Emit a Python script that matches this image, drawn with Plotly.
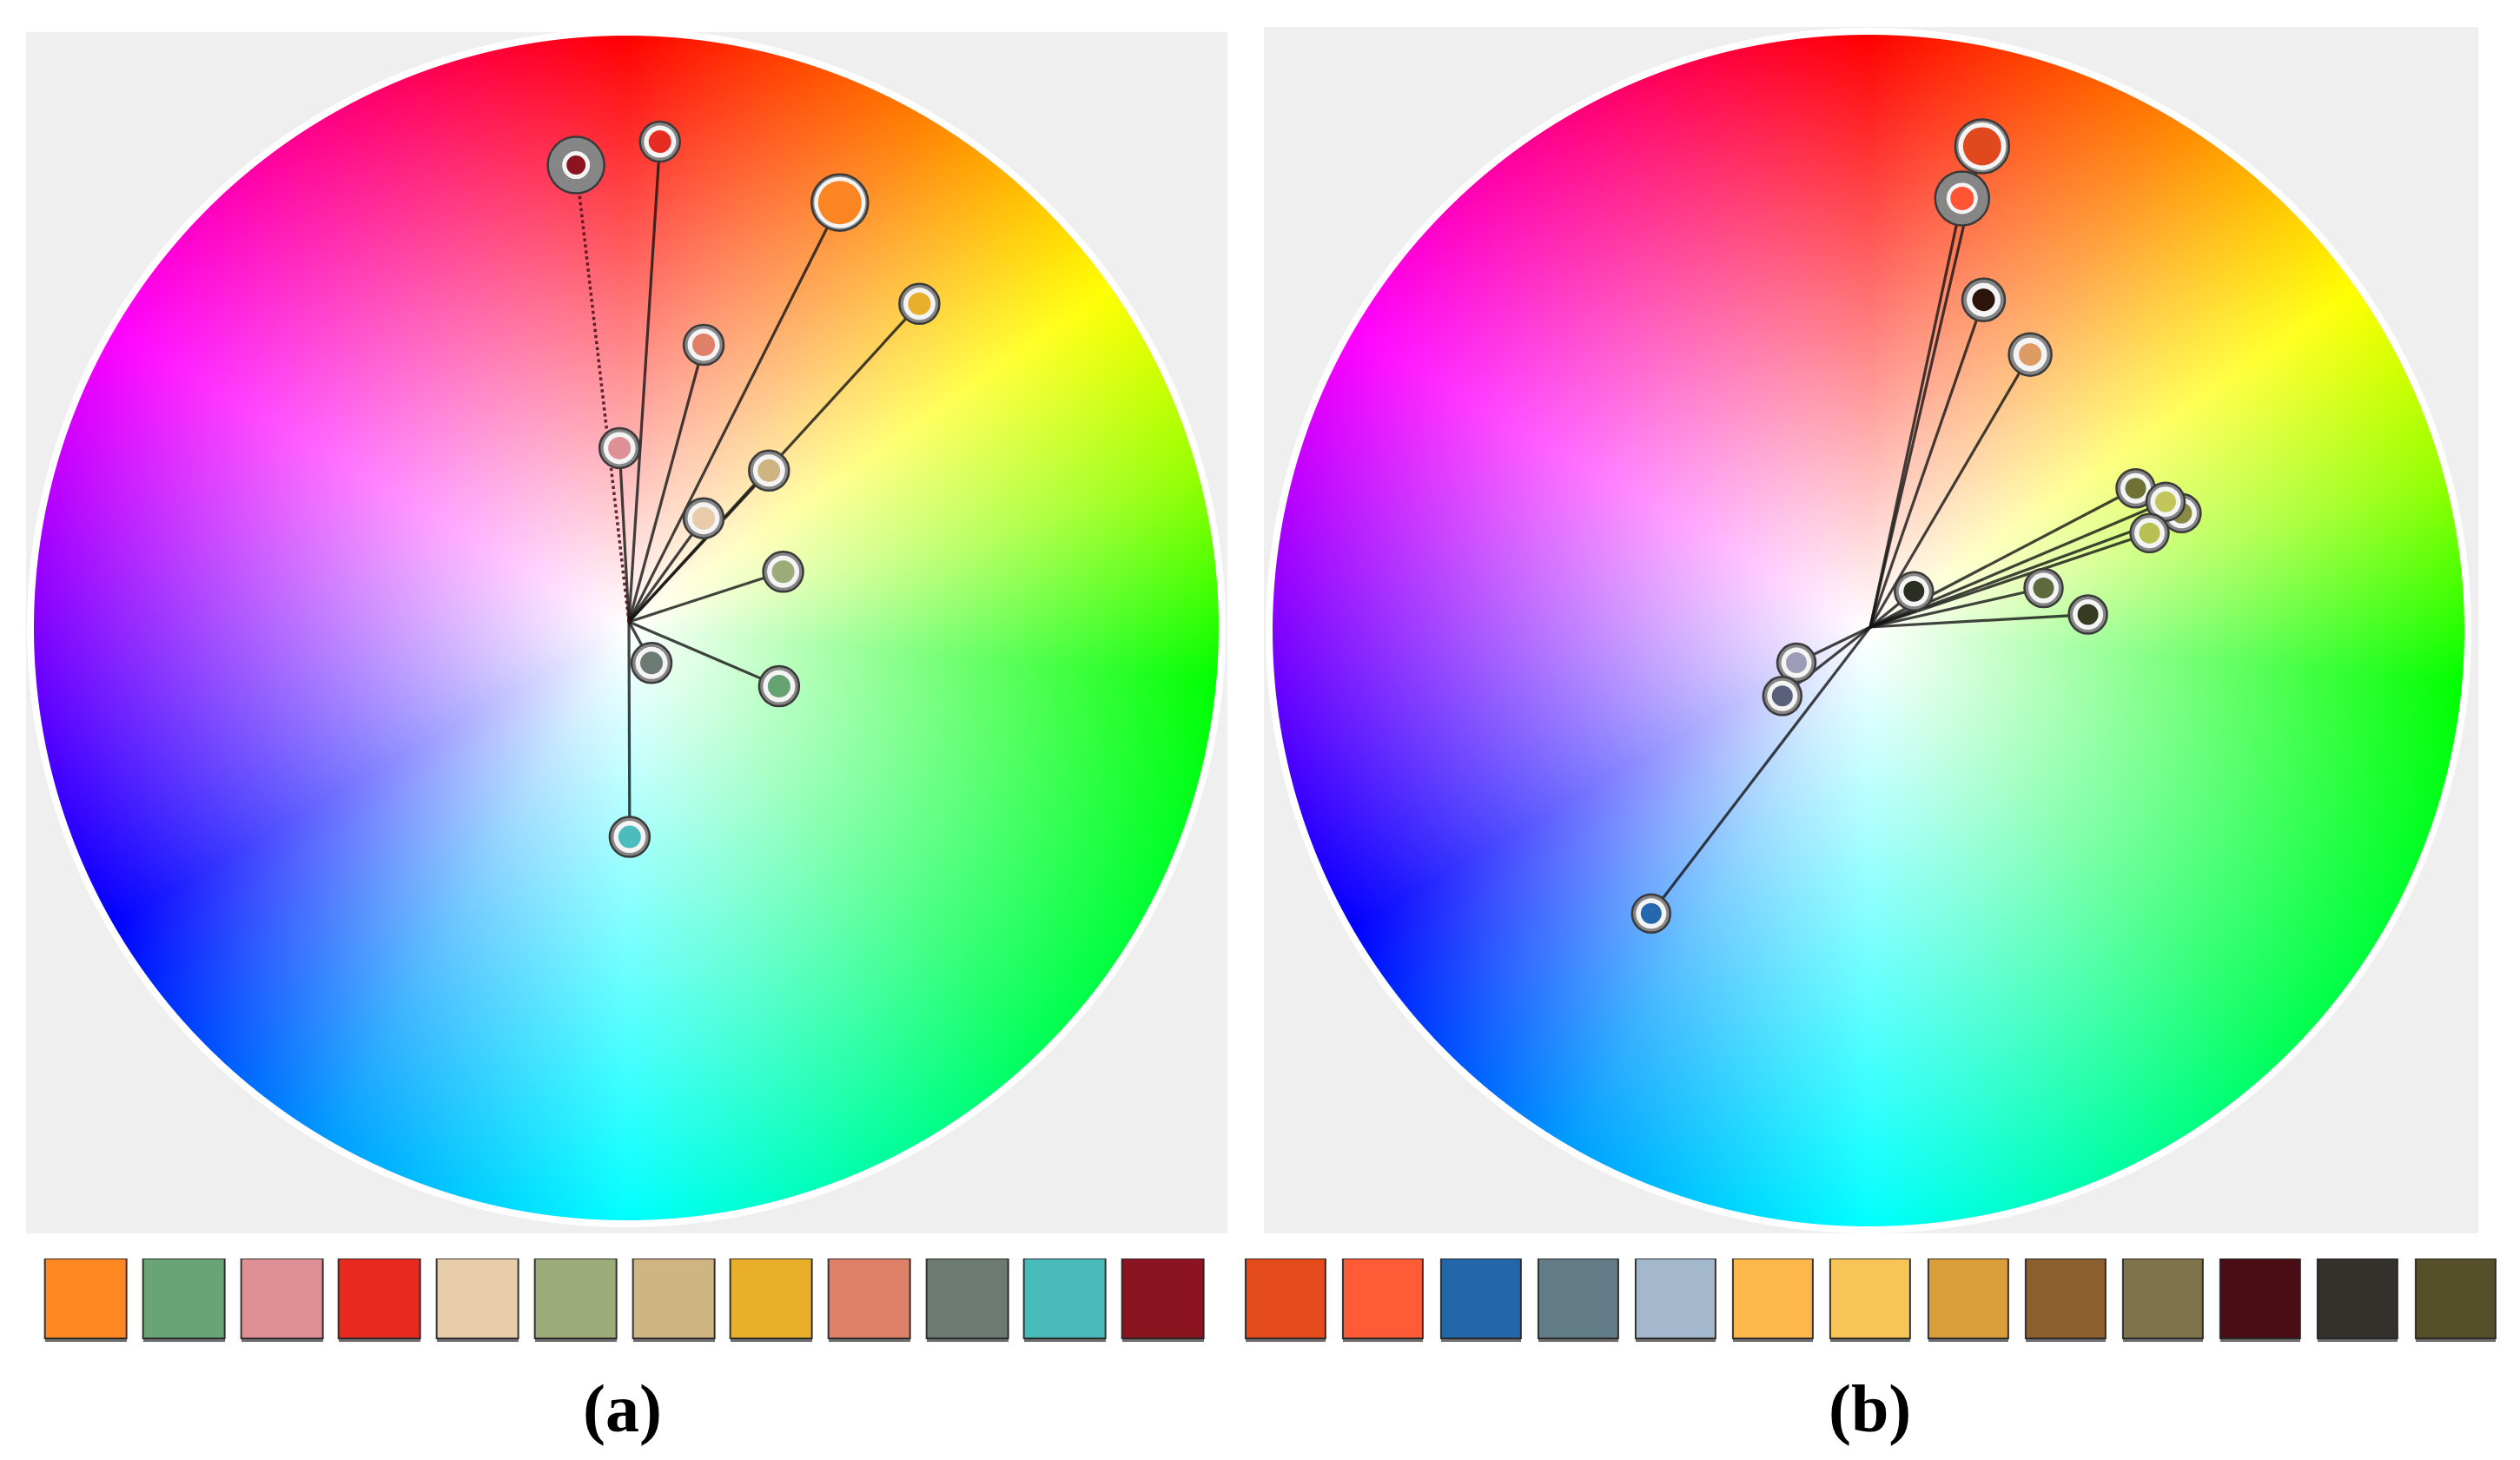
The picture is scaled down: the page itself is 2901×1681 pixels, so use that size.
import numpy as np
import zlib, struct, base64
import plotly.graph_objects as go

FIG_W, FIG_H = 2901, 1681

# ------------------------------------------------------------------ data
# Panel (a): markers on the colour wheel (angle clockwise from top, radius 0..1)
A_THETA = [26.7, 113.2, 356.9, 3.7, 35.8, 72.0, 42.8, 42.4, 15.1, 151.2, 179.8, 353.4]
A_R = [0.790, 0.275, 0.293, 0.810, 0.215, 0.273, 0.347, 0.725, 0.483, 0.079, 0.362, 0.774]
A_COLORS = ['#fc8523', '#66a373', '#de9195', '#e62c23', '#e8ccaa', '#9dab78',
            '#cfb481', '#e9ae2c', '#e08068', '#6b7a72', '#4cbcbc', '#8c1421']
A_SWATCHES = ['#fd8721', '#68a474', '#df9095', '#e7291f', '#e8cdab', '#9cac79',
              '#cfb582', '#e9af2b', '#df8068', '#6c7a72', '#4abbbb', '#8c1420']

# Panel (b)
B_THETA = [13.1, 12.1, 19.1, 30.4, 69.9, 62.4, 67.0, 71.4, 50.7, 77.3, 86.7, 244.2, 231.9, 217.4]
B_R = [0.831, 0.738, 0.583, 0.532, 0.558, 0.504, 0.540, 0.496, 0.095, 0.299, 0.367, 0.138, 0.188, 0.607]
B_COLORS = ['#e0481e', '#ff5535', '#2c130c', '#dd9a62', '#8a8a44', '#6e7234', '#c2c65a',
            '#b9c052', '#2b2e22', '#5e6a3e', '#363c22', '#9c9cb6', '#5a6079', '#2668b0']
B_SWATCHES = ['#e34a1c', '#fe5b36', '#2366a9', '#627c88', '#a3b8cd', '#fdb74b', '#f6c457',
              '#d99d3a', '#8e5f2e', '#7f734c', '#4a0c15', '#34302c', '#55502a']

LABELS = ['(a)', '(b)']

# colour-wheel hue layout (wheel angle -> HSV hue)
HUE_ANGLE = [0, 30, 55, 75, 95, 135, 180, 210, 240, 270, 300, 360]
HUE_VALUE = [0, 30, 60, 85, 120, 140, 180, 203, 240, 270, 300, 360]

# ------------------------------------------------------------------ styles
A_OUTER = [67, 48, 48, 48, 48, 48, 48, 48, 48, 48, 48, 67]
A_WHITE = [59, 37, 37, 37, 37, 37, 37, 37, 37, 37, 37, 32]
A_DOT = [50, 26, 26, 26, 26, 26, 26, 26, 26, 26, 26, 22]
A_DOTTED = [False] * 11 + [True]

B_OUTER = [64, 64, 51, 51, 46, 46, 46, 46, 46, 46, 46, 46, 46, 46]
B_WHITE = [55, 36, 39, 39, 35, 35, 35, 35, 35, 35, 35, 35, 35, 35]
B_DOT = [44, 27, 26, 26, 24, 24, 24, 24, 24, 24, 24, 24, 24, 24]
B_DOTTED = [False] * 14

PANEL_BG = (239, 239, 239)

# layout geometry (pixels)
PANELS = [
    dict(rect=(30, 37, 1413, 1420), wheel=(721, 723, 682), center=(724, 716), R=684,
         sw_left=52, sw_pitch=112.7, sw_w=94, label_x=716),
    dict(rect=(1455, 31, 2853, 1420), wheel=(2151, 726, 686), center=(2153, 722), R=684,
         sw_left=1434, sw_pitch=112.2, sw_w=92, label_x=2152),
]
SW_TOP, SW_BOT = 1449, 1541
LABEL_Y = 1621


def hsv_to_rgb(h, s, v):
    h6 = (h % 360) / 60.0
    i = np.floor(h6).astype(int) % 6
    f = h6 - np.floor(h6)
    p = v * (1 - s)
    q = v * (1 - s * f)
    t = v * (1 - s * (1 - f))
    r = np.choose(i, [v, q, p, p, t, v])
    g = np.choose(i, [t, v, v, q, p, p])
    b = np.choose(i, [p, p, t, v, v, q])
    return np.stack([r, g, b], axis=-1)


def png_uri(rgb):
    h, w, _ = rgb.shape
    a = rgb.astype(np.int16)
    up = np.empty_like(a)
    up[0] = a[0]
    up[1:] = (a[1:] - a[:-1]) % 256
    raw = np.concatenate([np.full((h, 1), 2, np.uint8),
                          up.astype(np.uint8).reshape(h, w * 3)], axis=1)
    comp = zlib.compress(raw.tobytes(), 6)

    def chunk(t, d):
        c = struct.pack('>I', len(d)) + t + d
        return c + struct.pack('>I', zlib.crc32(t + d) & 0xffffffff)

    png = (b'\x89PNG\r\n\x1a\n' +
           chunk(b'IHDR', struct.pack('>IIBBBBB', w, h, 8, 2, 0, 0, 0)) +
           chunk(b'IDAT', comp) + chunk(b'IEND', b''))
    return 'data:image/png;base64,' + base64.b64encode(png).decode()


def wheel_image(rect, wheel, ring=8):
    x0, y0, x1, y1 = rect
    cx, cy, R = wheel
    W, H = x1 - x0, y1 - y0
    yy, xx = np.mgrid[0:H, 0:W].astype(float)
    dx = xx + 0.5 + x0 - cx
    dy = yy + 0.5 + y0 - cy
    d = np.hypot(dx, dy)
    theta = np.degrees(np.arctan2(dx, -dy)) % 360
    hue = np.interp(theta, HUE_ANGLE, HUE_VALUE)
    s = np.clip(d / R, 0, 1)
    rgb = hsv_to_rgb(hue, s, np.ones_like(s)) * 255
    inside = np.clip(R - d + 0.5, 0, 1)[..., None]
    ringc = np.clip(R + ring - d + 0.5, 0, 1)[..., None]
    bg = np.array(PANEL_BG, float)
    col = bg * (1 - ringc) + 255 * ringc
    col = col * (1 - inside) + rgb * inside
    return png_uri(np.clip(np.round(col), 0, 255).astype(np.uint8))


fig = go.Figure()
images, annotations = [], []
layout_extra = {}

panel_data = [
    (A_THETA, A_R, A_COLORS, A_SWATCHES, A_OUTER, A_WHITE, A_DOT, A_DOTTED),
    (B_THETA, B_R, B_COLORS, B_SWATCHES, B_OUTER, B_WHITE, B_DOT, B_DOTTED),
]

for k, (P, (th, rr, cols, sw, outer, white, dot, dotted)) in enumerate(zip(PANELS, panel_data)):
    sfx = '' if k == 0 else str(k + 1)
    polar = 'polar' + sfx
    x0, y0, x1, y1 = P['rect']
    images.append(dict(source=wheel_image(P['rect'], P['wheel']), xref='paper', yref='paper',
                       x=x0 / FIG_W, y=1 - y0 / FIG_H, sizex=(x1 - x0) / FIG_W,
                       sizey=(y1 - y0) / FIG_H, xanchor='left', yanchor='top',
                       sizing='stretch', layer='below'))
    cx, cy = P['center']
    R = P['R']
    layout_extra[polar] = dict(
        domain=dict(x=[(cx - R) / FIG_W, (cx + R) / FIG_W],
                    y=[1 - (cy + R) / FIG_H, 1 - (cy - R) / FIG_H]),
        bgcolor='rgba(0,0,0,0)',
        angularaxis=dict(visible=False, rotation=90, direction='clockwise'),
        radialaxis=dict(visible=False, range=[0, 1], autorange=False),
    )
    # spokes
    for dash_flag in (False, True):
        rs, ts = [], []
        for t, r, dflag in zip(th, rr, dotted):
            if dflag == dash_flag:
                rs += [0, r, None]
                ts += [t, t, None]
        if rs:
            fig.add_trace(go.Scatterpolar(
                r=rs, theta=ts, mode='lines', subplot=polar, hoverinfo='skip',
                line=dict(color='rgba(80,20,30,0.9)' if dash_flag else 'rgba(20,20,20,0.8)',
                          width=3.5 if dash_flag else 3.2, dash='dot' if dash_flag else 'solid')))
    # markers (outer gray ring, white ring, colour dot) per point for proper stacking
    for t, r, c, so, sw_, sd in zip(th, rr, cols, outer, white, dot):
        fig.add_trace(go.Scatterpolar(r=[r], theta=[t], mode='markers', subplot=polar,
                                      marker=dict(size=so - 2, color='#868686',
                                                  line=dict(color='#3a3a3a', width=2.5))))
        fig.add_trace(go.Scatterpolar(r=[r], theta=[t], mode='markers', subplot=polar,
                                      marker=dict(size=sw_, color='#f4f4f4', line=dict(width=0))))
        fig.add_trace(go.Scatterpolar(r=[r], theta=[t], mode='markers', subplot=polar,
                                      marker=dict(size=sd, color=c, line=dict(width=0))))

    # swatches as bars on their own axes
    xa, ya = 'x' + sfx, 'y' + sfx
    n = len(sw)
    pitch = P['sw_pitch']
    c0 = P['sw_left'] + P['sw_w'] / 2
    unit = SW_BOT - SW_TOP
    xr_px = (c0 - 0.5 * pitch, c0 + (n - 0.5) * pitch)
    layout_extra['xaxis' + sfx] = dict(domain=[xr_px[0] / FIG_W, xr_px[1] / FIG_W],
                                       range=[-0.5, n - 0.5], visible=False, fixedrange=True,
                                       anchor=ya)
    ylow = -0.05
    layout_extra['yaxis' + sfx] = dict(domain=[1 - (SW_BOT - ylow * unit) / FIG_H, 1 - SW_TOP / FIG_H],
                                       range=[ylow, 1], visible=False, fixedrange=True, anchor=xa)
    bw = P['sw_w'] / pitch
    fig.add_trace(go.Bar(x=list(range(n)), y=[1] * n, base=[-0.045] * n, width=bw,
                         marker=dict(color='#707070', line=dict(width=0)),
                         xaxis=xa, yaxis=ya, hoverinfo='skip'))
    fig.add_trace(go.Bar(x=list(range(n)), y=[1] * n, base=[0] * n, width=bw,
                         marker=dict(color=sw, line=dict(color='rgba(35,35,35,0.9)', width=2)),
                         xaxis=xa, yaxis=ya))
    annotations.append(dict(text='<b>%s</b>' % LABELS[k], xref='paper', yref='paper',
                            x=P['label_x'] / FIG_W, y=1 - LABEL_Y / FIG_H,
                            xanchor='center', yanchor='middle', showarrow=False,
                            font=dict(family='Liberation Serif', size=78, color='#000000')))

fig.update_layout(
    width=FIG_W, height=FIG_H, autosize=False, template='none',
    margin=dict(l=0, r=0, t=0, b=0, pad=0),
    paper_bgcolor='white', plot_bgcolor='rgba(0,0,0,0)',
    showlegend=False, barmode='overlay', bargap=0,
    images=images, annotations=annotations,
    **layout_extra,
)

fig.write_html('out.html', config={'displayModeBar': False},
               post_script="document.body.style.margin='0';document.body.style.overflow='hidden';")
